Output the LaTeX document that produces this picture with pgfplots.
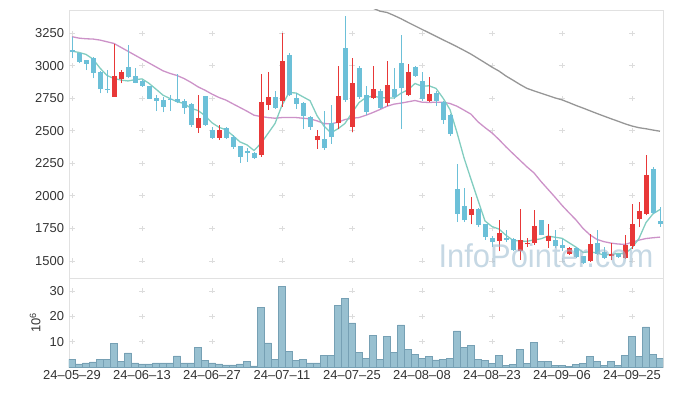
\documentclass[border=0pt]{standalone}
\usepackage{pgfplots}
\usepackage{pgfplotstable}
\pgfplotsset{compat=1.18}
\usepackage{fontspec}
\setmainfont{Liberation Sans}
\definecolor{upred}{RGB}{232,56,56}
\definecolor{downblue}{RGB}{108,192,216}
\definecolor{maA}{RGB}{130,205,192}
\definecolor{maB}{RGB}{204,146,200}
\definecolor{maC}{RGB}{150,150,150}
\definecolor{volfill}{RGB}{152,192,208}
\definecolor{voledge}{RGB}{118,160,180}
\definecolor{ticktext}{RGB}{51,51,51}
\definecolor{framec}{RGB}{225,225,225}
\definecolor{gridc}{RGB}{220,220,220}
\definecolor{wm}{RGB}{160,190,210}

\pgfplotstableread{
i o h l c
6 2760 3163 2760 2919
7 2899 2965 2863 2952
18 2522 2778 2486 2599
21 2445 2547 2427 2504
27 2312 2935 2299 2719
28 2699 2953 2658 2758
30 2727 3253 2683 3035
35 2427 2504 2363 2458
38 2560 2996 2517 2765
40 2530 3055 2491 2868
43 2753 2996 2742 2824
45 2714 3035 2688 2850
48 2773 3009 2765 2953
51 2727 2909 2717 2781
57 1855 1991 1781 1901
61 1653 1817 1573 1717
64 1576 1901 1509 1658
65 1627 1678 1607 1637
66 1637 1894 1624 1771
68 1653 1786 1601 1689
71 1555 1607 1548 1601
74 1499 1709 1491 1632
77 1537 1637 1504 1550
79 1522 1701 1517 1619
80 1612 1940 1594 1786
81 1819 1953 1760 1881
82 1863 2317 1850 2158
}\upcandles

\pgfplotstableread{
i o h l c
0 3119 3222 3055 3101
1 3094 3099 3017 3030
2 3042 3042 2965 3014
3 3055 3063 2901 2945
4 2950 2955 2786 2817
5 2822 2965 2786 2812
8 2988 3158 2901 2911
9 2919 2978 2863 2868
10 2883 2890 2838 2842
11 2842 2845 2742 2745
12 2752 2778 2650 2729
13 2735 2760 2640 2683
14 2745 2773 2650 2735
15 2742 2934 2709 2722
16 2727 2747 2632 2676
17 2704 2709 2530 2542
19 2765 2768 2540 2542
20 2504 2530 2440 2445
22 2519 2530 2440 2445
23 2450 2465 2363 2376
24 2381 2385 2253 2299
25 2342 2368 2260 2330
26 2332 2337 2286 2291
29 2758 2804 2665 2676
31 3081 3099 2765 2773
32 2752 2786 2670 2706
33 2712 2717 2517 2612
34 2606 2612 2509 2530
36 2435 2650 2355 2368
37 2563 2701 2401 2453
39 3137 3381 2722 2735
41 2983 2996 2747 2760
42 2773 2842 2619 2645
44 2806 2817 2663 2678
46 2819 2978 2747 2760
47 3022 3235 2517 2829
49 2991 2996 2914 2922
50 2881 2953 2727 2742
52 2791 2804 2688 2727
53 2717 2727 2550 2581
54 2619 2625 2458 2478
55 2050 2247 1799 1863
56 1922 2063 1799 1812
58 1901 1904 1760 1778
59 1781 1784 1663 1683
60 1676 1688 1607 1645
62 1678 1740 1645 1663
63 1671 1674 1573 1581
67 1812 1817 1696 1701
69 1658 1735 1601 1612
70 1619 1671 1573 1599
72 1601 1607 1522 1530
73 1535 1540 1473 1486
75 1640 1735 1542 1555
76 1568 1607 1517 1522
78 1550 1555 1524 1530
83 2209 2222 1863 1868
84 1806 1914 1760 1781
}\downcandles

\pgfplotstableread{
i v
0 3111
1 3101
2 3086
3 3050
4 2981
5 2924
6 2901
7 2889
8 2882
9 2892
10 2898
11 2864
12 2819
13 2773
14 2747
15 2723
16 2709
17 2672
18 2655
19 2616
20 2561
21 2526
22 2507
23 2462
24 2414
25 2391
26 2348
27 2403
28 2479
29 2555
30 2696
31 2792
32 2790
33 2760
34 2731
35 2616
36 2535
37 2484
38 2515
39 2556
40 2638
41 2716
42 2755
43 2766
44 2755
45 2751
46 2751
47 2788
48 2814
49 2863
50 2841
51 2845
52 2825
53 2751
54 2662
55 2486
56 2292
57 2127
58 1966
59 1807
60 1764
61 1745
62 1697
63 1658
64 1653
65 1651
66 1662
67 1670
68 1691
69 1682
70 1674
71 1640
72 1606
73 1566
74 1570
75 1561
76 1545
77 1549
78 1558
79 1555
80 1601
81 1673
82 1795
83 1862
84 1895
}\maFive

\pgfplotstableread{
i v
0 3222
1 3211
2 3206
3 3204
4 3196
5 3183
6 3170
7 3140
8 3110
9 3080
10 3050
11 3020
12 2990
13 2960
14 2940
15 2924
16 2901
17 2871
18 2837
19 2811
20 2781
21 2755
22 2735
23 2706
24 2678
25 2650
26 2619
27 2609
28 2601
29 2596
30 2601
31 2601
32 2601
33 2596
34 2591
35 2576
36 2555
37 2553
38 2565
39 2586
40 2596
41 2601
42 2619
43 2640
44 2663
45 2688
46 2704
47 2712
48 2722
49 2732
50 2719
51 2717
52 2719
53 2719
54 2709
55 2688
56 2658
57 2627
58 2568
59 2524
60 2483
61 2432
62 2376
63 2324
64 2273
65 2222
66 2176
67 2110
68 2050
69 1990
70 1927
71 1870
72 1815
73 1750
74 1700
75 1665
76 1648
77 1637
78 1630
79 1627
80 1643
81 1660
82 1672
83 1678
84 1683
}\maTwenty

\pgfplotstableread{
i v
42 3470
43 3441
44 3418
45 3408
46 3385
47 3360
48 3332
49 3305
50 3278
51 3252
52 3225
53 3198
54 3172
55 3145
56 3117
57 3088
58 3055
59 3022
60 2988
61 2958
62 2920
63 2888
64 2855
65 2825
66 2806
67 2788
68 2770
69 2752
70 2737
71 2716
72 2694
73 2674
74 2653
75 2632
76 2612
77 2592
78 2573
79 2553
80 2536
81 2523
82 2515
83 2505
84 2496
}\maSixty

\pgfplotstableread{
i v
0 2.9
1 1.2
2 1.6
3 2.0
4 2.9
5 2.9
6 9.2
7 2.1
8 5.6
9 1.6
10 1.2
11 1.2
12 1.6
13 1.6
14 1.6
15 4.4
16 1.6
17 1.6
18 7.6
19 2.5
20 1.6
21 1.2
22 0.8
23 0.8
24 1.2
25 2.1
26 0.4
27 23.5
28 9.5
29 3.1
30 31.9
31 6.0
32 2.5
33 2.9
34 1.6
35 1.6
36 4.7
37 4.7
38 24.2
39 26.9
40 17.4
41 5.8
42 3.4
43 12.6
44 3.0
45 12.2
46 5.8
47 16.6
48 6.8
49 5.0
50 3.4
51 4.2
52 2.8
53 3.0
54 3.4
55 14.2
56 7.8
57 8.6
58 3.0
59 2.6
60 1.5
61 4.6
62 0.5
63 1.1
64 7.0
65 1.5
66 9.8
67 2.3
68 2.3
69 0.7
70 0.7
71 0.3
72 1.1
73 1.5
74 4.2
75 2.3
76 0.7
77 2.3
78 0.7
79 4.6
80 12.2
81 4.2
82 15.8
83 5.0
84 3.4
}\volume

\pgfplotsset{
  base/.style={
    scale only axis, width=594bp,
    xmin=-0.43, xmax=84.43,
    axis line style={framec},
    tick style={draw=none},
    major tick length=0pt,
    xtick={0,10,...,80},
    ticklabel style={font=\fontsize{13}{15}\selectfont, text=ticktext},
    yticklabel style={xshift=-1.5bp},
    /pgf/number format/assume math mode=true,
    /pgf/number format/1000 sep={},
    scaled y ticks=false,
  },
}

\begin{document}
\begin{tikzpicture}
\useasboundingbox (-69bp,-118bp) rectangle (604bp,278bp);
\begin{axis}[base, at={(0,0)}, anchor=south west, height=268bp,
  ymin=1369, ymax=3427, ytick={1500,1750,...,3250}, xticklabels={}]
\pgfplotsinvokeforeach{0,10,...,80}{
  \addplot[draw=none, mark=none, error bars/.cd, x dir=both, x fixed=0.36, y dir=both, y fixed=19.2,
    error mark=none, error bar style={line width=0.8bp, draw=gridc, solid}]
    coordinates {(#1,1500) (#1,1750) (#1,2000) (#1,2250) (#1,2500) (#1,2750) (#1,3000) (#1,3250)};
}
\addplot[maC, line width=1.3bp, mark=none] table[x=i, y=v] {\maSixty};
\addplot[maB, line width=1.3bp, mark=none] table[x=i, y=v] {\maTwenty};
\addplot[maA, line width=1.3bp, mark=none] table[x=i, y=v] {\maFive};
\addplot[draw=none, mark=none, error bars/.cd, y dir=plus, y explicit, error mark=none,
    error bar style={line width=1bp, draw=downblue}]
  table[x=i, y=l, y error plus expr={\thisrow{h}-\thisrow{l}}, y error minus expr=0] {\downcandles};
\addplot[draw=none, mark=none, error bars/.cd, y dir=plus, y explicit, error mark=none,
    error bar style={line width=1bp, draw=upred}]
  table[x=i, y=l, y error plus expr={\thisrow{h}-\thisrow{l}}, y error minus expr=0] {\upcandles};
\addplot[draw=none, mark=none, error bars/.cd, y dir=plus, y explicit, error mark=none,
    error bar style={line width=5bp, draw=downblue}]
  table[x=i, y=c, y error plus expr={max(\thisrow{o}-\thisrow{c},8)}, y error minus expr=0] {\downcandles};
\addplot[draw=none, mark=none, error bars/.cd, y dir=plus, y explicit, error mark=none,
    error bar style={line width=5bp, draw=upred}]
  table[x=i, y=o, y error plus expr={max(\thisrow{c}-\thisrow{o},8)}, y error minus expr=0] {\upcandles};
\node[font=\fontsize{33}{36}\selectfont, text=wm, opacity=0.6, xscale=0.94] at (rel axis cs:0.803,0.082) {InfoPointer.com};
\end{axis}
\begin{axis}[base, at={(0,-89bp)}, anchor=south west, height=89bp,
  ymin=0, ymax=35.1, ytick={10,20,30},
  xticklabels={24--05--29,24--06--13,24--06--27,24--07--11,24--07--25,24--08--08,24--08--23,24--09--06,24--09--25},
  ylabel={10\textsuperscript{6}},
  ylabel style={at={(axis description cs:-0.057,0.5)}, anchor=center, font=\fontsize{13}{15}\selectfont, text=ticktext}]
\pgfplotsinvokeforeach{0,10,...,80}{
  \addplot[draw=none, mark=none, error bars/.cd, x dir=both, x fixed=0.36, y dir=both, y fixed=0.99,
    error mark=none, error bar style={line width=0.8bp, draw=gridc, solid}]
    coordinates {(#1,10) (#1,20) (#1,30)};
}
\addplot[ybar, bar width=7bp, bar shift=0pt, fill=volfill, draw=voledge, line width=0.6bp] table[x=i, y=v] {\volume};
\end{axis}
\end{tikzpicture}
\end{document}
